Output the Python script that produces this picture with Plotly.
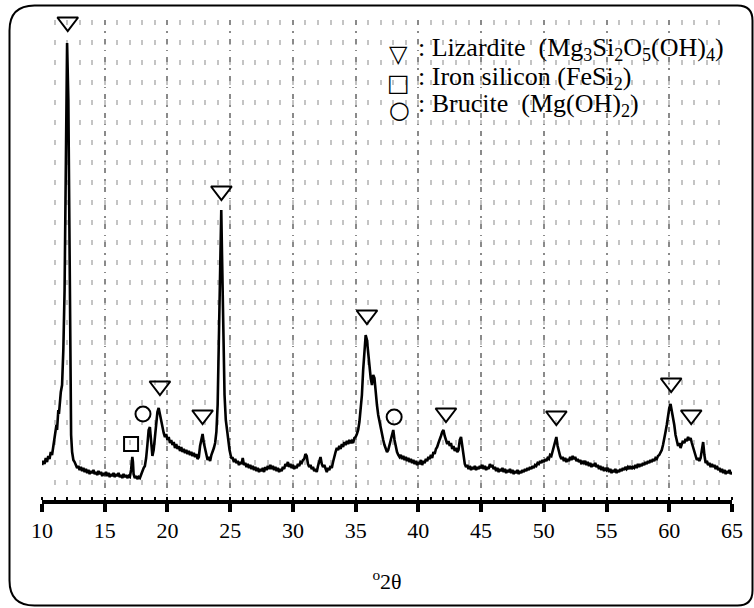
import plotly.graph_objects as go

# ---------------- data ----------------
two_theta = [
    10.0, 10.1, 10.2, 10.3, 10.4, 10.5, 10.6, 10.7, 10.8, 10.9, 11.0, 11.1, 11.15, 11.2, 11.25, 11.3, 11.35, 11.4, 11.5, 11.6,
    11.7, 11.8, 11.87, 11.93, 12.0, 12.1, 12.17, 12.22, 12.27, 12.32, 12.4, 12.5, 12.6, 12.7, 12.8, 12.9, 13.0, 13.1, 13.2, 13.3,
    13.4, 13.5, 13.6, 13.7, 13.8, 13.9, 14.0, 14.1, 14.2, 14.3, 14.4, 14.5, 14.6, 14.7, 14.8, 14.9, 15.0, 15.1, 15.2, 15.3,
    15.4, 15.5, 15.6, 15.7, 15.8, 15.9, 16.0, 16.1, 16.2, 16.3, 16.4, 16.5, 16.6, 16.7, 16.8, 16.9, 17.0, 17.1, 17.2, 17.25,
    17.3, 17.4, 17.5, 17.6, 17.7, 17.8, 17.9, 18.0, 18.1, 18.2, 18.3, 18.4, 18.5, 18.6, 18.7, 18.8, 18.9, 19.0, 19.1, 19.2,
    19.3, 19.4, 19.5, 19.6, 19.7, 19.8, 19.9, 20.0, 20.1, 20.2, 20.3, 20.4, 20.5, 20.6, 20.7, 20.8, 20.9, 21.0, 21.1, 21.2,
    21.3, 21.4, 21.5, 21.6, 21.7, 21.8, 21.9, 22.0, 22.1, 22.2, 22.3, 22.4, 22.5, 22.6, 22.7, 22.8, 22.9, 23.0, 23.1, 23.2,
    23.3, 23.4, 23.5, 23.6, 23.7, 23.8, 23.9, 24.0, 24.1, 24.2, 24.29, 24.35, 24.45, 24.55, 24.65, 24.75, 24.85, 24.95, 25.05, 25.1,
    25.2, 25.3, 25.4, 25.5, 25.6, 25.7, 25.8, 25.9, 26.0, 26.1, 26.2, 26.3, 26.4, 26.5, 26.6, 26.7, 26.8, 26.9, 27.0, 27.1,
    27.2, 27.3, 27.4, 27.5, 27.6, 27.7, 27.8, 27.9, 28.0, 28.1, 28.2, 28.3, 28.4, 28.5, 28.6, 28.7, 28.8, 28.9, 29.0, 29.1,
    29.2, 29.3, 29.4, 29.5, 29.6, 29.7, 29.8, 29.9, 30.0, 30.1, 30.2, 30.3, 30.4, 30.5, 30.6, 30.7, 30.8, 30.9, 31.0, 31.1,
    31.2, 31.3, 31.4, 31.5, 31.6, 31.7, 31.8, 31.9, 32.0, 32.1, 32.2, 32.3, 32.4, 32.5, 32.6, 32.7, 32.8, 32.9, 33.0, 33.1,
    33.2, 33.3, 33.4, 33.5, 33.6, 33.7, 33.8, 33.9, 34.0, 34.1, 34.2, 34.3, 34.4, 34.5, 34.6, 34.7, 34.8, 34.9, 35.0, 35.1,
    35.2, 35.3, 35.4, 35.5, 35.6, 35.7, 35.8, 35.9, 36.0, 36.1, 36.2, 36.3, 36.4, 36.5, 36.6, 36.7, 36.8, 36.9, 37.0, 37.1,
    37.2, 37.3, 37.4, 37.5, 37.6, 37.7, 37.8, 37.9, 38.0, 38.1, 38.2, 38.3, 38.4, 38.5, 38.6, 38.7, 38.8, 38.9, 39.0, 39.1,
    39.2, 39.3, 39.4, 39.5, 39.6, 39.7, 39.8, 39.9, 40.0, 40.1, 40.2, 40.3, 40.4, 40.5, 40.6, 40.7, 40.8, 40.9, 41.0, 41.1,
    41.2, 41.3, 41.4, 41.5, 41.6, 41.7, 41.8, 41.9, 42.0, 42.1, 42.2, 42.3, 42.4, 42.5, 42.6, 42.7, 42.8, 42.9, 43.0, 43.1,
    43.2, 43.3, 43.4, 43.5, 43.6, 43.7, 43.8, 43.9, 44.0, 44.1, 44.2, 44.3, 44.4, 44.5, 44.6, 44.7, 44.8, 44.9, 45.0, 45.1,
    45.2, 45.3, 45.4, 45.5, 45.6, 45.7, 45.8, 45.9, 46.0, 46.1, 46.2, 46.3, 46.4, 46.5, 46.6, 46.7, 46.8, 46.9, 47.0, 47.1,
    47.2, 47.3, 47.4, 47.5, 47.6, 47.7, 47.8, 47.9, 48.0, 48.1, 48.2, 48.3, 48.4, 48.5, 48.6, 48.7, 48.8, 48.9, 49.0, 49.1,
    49.2, 49.3, 49.4, 49.5, 49.6, 49.7, 49.8, 49.9, 50.0, 50.1, 50.2, 50.3, 50.4, 50.5, 50.6, 50.7, 50.8, 50.9, 51.0, 51.1,
    51.2, 51.3, 51.4, 51.5, 51.6, 51.7, 51.8, 51.9, 52.0, 52.1, 52.2, 52.3, 52.4, 52.5, 52.6, 52.7, 52.8, 52.9, 53.0, 53.1,
    53.2, 53.3, 53.4, 53.5, 53.6, 53.7, 53.8, 53.9, 54.0, 54.1, 54.2, 54.3, 54.4, 54.5, 54.6, 54.7, 54.8, 54.9, 55.0, 55.1,
    55.2, 55.3, 55.4, 55.5, 55.6, 55.7, 55.8, 55.9, 56.0, 56.1, 56.2, 56.3, 56.4, 56.5, 56.6, 56.7, 56.8, 56.9, 57.0, 57.1,
    57.2, 57.3, 57.4, 57.5, 57.6, 57.7, 57.8, 57.9, 58.0, 58.1, 58.2, 58.3, 58.4, 58.5, 58.6, 58.7, 58.8, 58.9, 59.0, 59.1,
    59.2, 59.3, 59.4, 59.5, 59.6, 59.7, 59.8, 59.9, 60.0, 60.1, 60.2, 60.3, 60.4, 60.5, 60.6, 60.7, 60.8, 60.9, 61.0, 61.1,
    61.2, 61.3, 61.4, 61.5, 61.6, 61.7, 61.8, 61.9, 62.0, 62.1, 62.2, 62.3, 62.4, 62.5, 62.6, 62.7, 62.8, 62.9, 63.0, 63.1,
    63.2, 63.3, 63.4, 63.5, 63.6, 63.7, 63.8, 63.9, 64.0, 64.1, 64.2, 64.3, 64.4, 64.5, 64.6, 64.7, 64.8, 64.9, 65.0,
]

intensity = [
    35, 39, 36, 42, 38, 44, 41, 48, 45, 53, 60, 68, 75, 70, 82, 90, 86, 95, 108, 115,
    150, 210, 300, 400, 457, 400, 300, 200, 100, 65, 48, 40, 38, 35, 32, 34, 30, 33, 29, 32,
    28, 31, 27, 30, 26, 29, 27, 30, 26, 28, 25, 29, 26, 28, 24, 27, 25, 28, 24, 27,
    23, 26, 24, 27, 23, 26, 24, 27, 23, 25, 22, 26, 23, 25, 22, 24, 23, 30, 43, 38,
    26, 22, 24, 21, 23, 22, 26, 29, 32, 34, 42, 55, 70, 73, 55, 44, 50, 62, 75, 88,
    92, 85, 77, 72, 67, 63, 66, 60, 63, 57, 60, 55, 58, 52, 56, 51, 54, 49, 53, 48,
    51, 47, 50, 46, 49, 45, 48, 44, 47, 43, 46, 41, 43, 54, 60, 66, 57, 50, 45, 40,
    43, 39, 45, 48, 52, 57, 68, 95, 155, 230, 290, 245, 155, 105, 80, 68, 60, 50, 44, 42,
    42, 38, 41, 37, 39, 35, 38, 36, 42, 35, 37, 33, 36, 32, 35, 31, 34, 30, 33, 29,
    32, 28, 31, 29, 32, 28, 33, 30, 34, 31, 35, 31, 34, 30, 33, 29, 32, 28, 31, 29,
    33, 31, 36, 34, 38, 33, 36, 32, 35, 31, 34, 32, 36, 34, 38, 37, 40, 41, 46, 44,
    36, 33, 35, 31, 33, 29, 31, 28, 34, 40, 43, 36, 33, 35, 30, 28, 32, 30, 34, 32,
    38, 44, 48, 52, 50, 54, 51, 56, 53, 58, 55, 59, 56, 60, 57, 59, 57, 62, 63, 66,
    70, 78, 90, 105, 130, 155, 165, 160, 145, 132, 122, 115, 125, 122, 105, 95, 85, 78, 72, 65,
    60, 55, 51, 48, 50, 55, 62, 68, 70, 60, 52, 48, 45, 43, 45, 41, 44, 40, 43, 39,
    42, 38, 41, 37, 40, 36, 39, 35, 38, 36, 40, 35, 39, 37, 41, 39, 43, 41, 45, 42,
    48, 46, 51, 53, 57, 60, 64, 68, 70, 64, 60, 56, 59, 54, 57, 51, 54, 49, 52, 48,
    50, 60, 63, 55, 45, 36, 33, 35, 31, 34, 30, 33, 31, 34, 30, 33, 31, 34, 32, 35,
    31, 34, 30, 33, 31, 36, 33, 35, 31, 33, 29, 32, 28, 31, 29, 32, 28, 31, 27, 30,
    28, 31, 27, 30, 26, 29, 27, 30, 26, 29, 27, 30, 28, 31, 29, 32, 30, 33, 31, 34,
    32, 35, 34, 37, 36, 39, 37, 40, 38, 41, 39, 42, 41, 45, 44, 49, 54, 60, 63, 54,
    47, 44, 41, 43, 39, 42, 38, 41, 39, 43, 40, 44, 41, 43, 39, 41, 38, 40, 36, 39,
    37, 39, 35, 38, 34, 37, 33, 36, 34, 37, 33, 35, 31, 34, 30, 33, 29, 32, 30, 32,
    28, 31, 27, 30, 28, 31, 27, 30, 28, 31, 29, 32, 30, 33, 31, 33, 31, 34, 31, 33,
    32, 35, 32, 36, 33, 36, 34, 37, 35, 38, 36, 39, 37, 40, 38, 41, 39, 42, 41, 44,
    45, 48, 50, 55, 60, 68, 75, 85, 92, 96, 90, 82, 75, 65, 58, 54, 57, 52, 56, 59,
    57, 61, 59, 63, 60, 62, 57, 52, 47, 43, 40, 42, 39, 42, 50, 58, 45, 37, 39, 35,
    37, 33, 36, 33, 35, 31, 34, 30, 32, 28, 31, 27, 30, 26, 29, 27, 30, 26, 28,
]

# phase markers: peak position (2theta) and marker height
lizardite_x = [12.05, 19.4, 22.8, 24.3, 35.9, 42.2, 51.0, 60.15, 61.75]
lizardite_y = [478, 114, 85, 309, 185, 87, 84, 117, 85]
fesi2_x = [17.1]
fesi2_y = [56]
brucite_x = [18.05, 38.07]
brucite_y = [86, 83]

tick_vals = [10, 15, 20, 25, 30, 35, 40, 45, 50, 55, 60, 65]
tick_text = [str(v) for v in tick_vals]

legend_symbols = ["\u25BD", "\u25A1", "\u25CB"]
legend_labels = [
    ": Lizardite\u00a0 (Mg<sub>3</sub>Si<sub>2</sub>O<sub>5</sub>(OH)<sub>4</sub>)",
    ": Iron silicon (FeSi<sub>2</sub>)",
    ": Brucite\u00a0 (Mg(OH)<sub>2</sub>)",
]

# ---------------- figure ----------------
W, H = 754, 608
ML, MR, MT, MB = 42, 22, 20, 108
PW, PH = W - ML - MR, H - MT - MB
SERIF = "Liberation Serif"


def px(xp):
    return (xp - ML) / PW


def py(yp):
    return (H - MB - yp) / PH


fig = go.Figure()

fig.add_trace(go.Scatter(
    x=two_theta, y=intensity, mode="lines",
    line=dict(color="black", width=2.6), showlegend=False, hoverinfo="skip",
))

fig.add_trace(go.Scatter(
    x=lizardite_x, y=lizardite_y, mode="markers", showlegend=False, cliponaxis=False,
    marker=dict(symbol="triangle-down-open", size=18, color="black", line=dict(width=2, color="black")),
))
fig.add_trace(go.Scatter(
    x=fesi2_x, y=fesi2_y, mode="markers", showlegend=False, cliponaxis=False,
    marker=dict(symbol="square-open", size=14, color="black", line=dict(width=2, color="black")),
))
fig.add_trace(go.Scatter(
    x=brucite_x, y=brucite_y, mode="markers", showlegend=False, cliponaxis=False,
    marker=dict(symbol="circle-open", size=15, color="black", line=dict(width=2, color="black")),
))

# legend block (text)
row_mid = [49, 78, 105]
sym_x = [398, 398, 399]
sym_size = [24, 24, 24]
for s, lab, ym, sx, ss in zip(legend_symbols, legend_labels, row_mid, sym_x, sym_size):
    fig.add_annotation(x=px(sx), y=py(ym + 5), xref="paper", yref="paper", text=s, showarrow=False,
                       xanchor="center", yanchor="middle", font=dict(family="DejaVu Sans", size=ss, color="black"))
    fig.add_annotation(x=px(416), y=py(ym), xref="paper", yref="paper", text=lab, showarrow=False,
                       xanchor="left", yanchor="middle", font=dict(family=SERIF, size=26, color="black"))

# rounded outer frame
L, R, T, B = 9.5, 752.5, 5.5, 605.5
r1, r2 = 25, 15
path = (
    f"M {px(L + r1)},{py(T)} L {px(R - r2)},{py(T)} Q {px(R)},{py(T)} {px(R)},{py(T + r2)} "
    f"L {px(R)},{py(B - r2)} Q {px(R)},{py(B)} {px(R - r2)},{py(B)} "
    f"L {px(L + r1)},{py(B)} Q {px(L)},{py(B)} {px(L)},{py(B - r1)} "
    f"L {px(L)},{py(T + r1)} Q {px(L)},{py(T)} {px(L + r1)},{py(T)} Z"
)
fig.add_shape(type="path", path=path, xref="paper", yref="paper",
              line=dict(color="black", width=2), fillcolor="rgba(0,0,0,0)", layer="above")

fig.update_layout(
    width=W, height=H,
    margin=dict(l=ML, r=MR, t=MT, b=MB),
    paper_bgcolor="white", plot_bgcolor="white",
    font=dict(family=SERIF, color="black"),
    showlegend=False,
)

fig.update_xaxes(
    range=[10, 65], tickmode="array", tickvals=tick_vals, ticktext=tick_text,
    showline=True, linecolor="black", linewidth=4,
    ticks="outside", ticklen=8, tickwidth=3.5, tickcolor="black",
    tickfont=dict(family=SERIF, size=22, color="black"), ticklabelstandoff=0,
    showgrid=True, gridcolor="#8a8a8a", gridwidth=1.5, griddash="5px,6px,1.5px,6px",
    minor=dict(dtick=1, tick0=10, showgrid=True, gridcolor="#c4c4c4", gridwidth=2, griddash="5px,15px",
               ticks="inside", ticklen=3, tickwidth=2, tickcolor="black"),
    zeroline=False,
    title=dict(text="<sup>o</sup>2\u03b8", font=dict(family=SERIF, size=22, color="black"), standoff=32),
    automargin=False, fixedrange=True,
)
fig.update_yaxes(visible=False, range=[0, 480], fixedrange=True, showgrid=False, zeroline=False)

fig.write_html("out.html")
